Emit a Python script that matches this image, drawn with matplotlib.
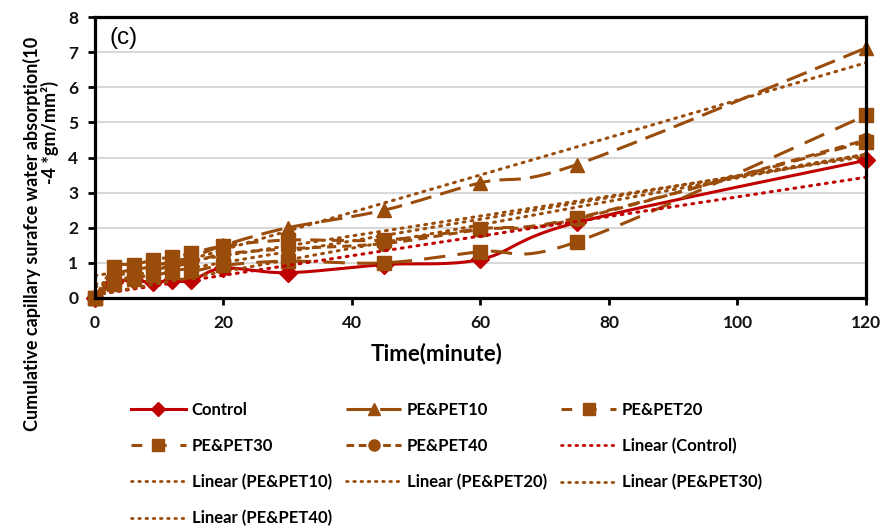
import numpy as np
import matplotlib
matplotlib.use("Agg")
import matplotlib.pyplot as plt
from matplotlib.lines import Line2D

# ---- data ----
time_min = [0, 3, 6, 9, 12, 15, 20, 30, 45, 60, 75, 120]
control = [0, 0.45, 0.5, 0.45, 0.5, 0.5, 0.85, 0.72, 0.95, 1.1, 2.15, 3.92]
pe_pet10 = [0, 0.65, 0.8, 0.9, 1.05, 1.15, 1.5, 2.0, 2.5, 3.28, 3.8, 7.12]
pe_pet20 = [0, 0.87, 0.95, 1.08, 1.17, 1.27, 1.48, 1.65, 1.65, 1.97, 2.28, 4.45]
pe_pet30 = [0, 0.4, 0.55, 0.65, 0.73, 0.75, 0.93, 1.05, 1.0, 1.32, 1.6, 5.2]
pe_pet40 = [0, 0.6, 0.7, 0.8, 0.9, 1.0, 1.25, 1.4, 1.55, 1.95, 2.25, 4.5]
series_names = ["Control", "PE&PET10", "PE&PET20", "PE&PET30", "PE&PET40"]
x_ticks = [0, 20, 40, 60, 80, 100, 120]
y_ticks = [0, 1, 2, 3, 4, 5, 6, 7, 8]

RED = "#C00000"
BROWN = "#9A4C0B"
FONT = "Lato"

plt.rcParams['font.family'] = [FONT, 'DejaVu Sans']


def smooth(xs, ys, n=20):
    """Excel-like smoothed line (cubic Bezier through points)."""
    xs = np.asarray(xs, float)
    ys = np.asarray(ys, float)
    P = np.column_stack([xs, ys])
    out = [P[0]]
    m = len(P)
    for i in range(m - 1):
        p0 = P[i - 1] if i > 0 else P[i]
        p1 = P[i]
        p2 = P[i + 1]
        p3 = P[i + 2] if i + 2 < m else P[i + 1]
        c1 = p1 + (p2 - p0) / 6.0
        c2 = p2 - (p3 - p1) / 6.0
        t = np.linspace(0, 1, n)[1:, None]
        seg = ((1 - t) ** 3) * p1 + 3 * ((1 - t) ** 2) * t * c1 + 3 * (1 - t) * t ** 2 * c2 + t ** 3 * p2
        out.extend(seg)
    out = np.array(out)
    return out[:, 0], out[:, 1]


fig = plt.figure(figsize=(8.87, 5.31), dpi=100)
ax = fig.add_axes([95 / 887, 1 - 298 / 531, (866 - 95) / 887, (298 - 17) / 531])

styles = [
    dict(color=RED, marker="D", ms=9, dashes=None, ldashes=None),
    dict(color=BROWN, marker="^", ms=10, dashes=(7, 3), ldashes=(9, 2)),
    dict(color=BROWN, marker="s", ms=10.5, dashes=(4, 3), ldashes=(3.5, 4.5)),
    dict(color=BROWN, marker="s", ms=10.5, dashes=(7, 4), ldashes=(3.5, 4.5)),
    dict(color=BROWN, marker="o", ms=10, dashes=(3, 2), ldashes=(2.5, 1.5)),
]
data = [control, pe_pet10, pe_pet20, pe_pet30, pe_pet40]

handles = {}
for name, ys, st in zip(series_names, data, styles):
    sx, sy = smooth(time_min, ys)
    kw = dict(color=st["color"], lw=2.2, solid_capstyle="butt", dash_capstyle="butt")
    if st["dashes"] is not None:
        ax.plot(sx, sy, ls="--", dashes=st["dashes"], zorder=3, **kw)
    else:
        ax.plot(sx, sy, ls="-", zorder=3, **kw)
    ax.plot(time_min, ys, ls="none", marker=st["marker"], ms=st["ms"],
            color=st["color"], mec=st["color"], zorder=4, clip_on=False)
    if st["ldashes"] is not None:
        h = Line2D([], [], color=st["color"], lw=2.2, marker=st["marker"],
                   ms=st["ms"] * 0.8, mec=st["color"], ls="--", dashes=st["ldashes"])
    else:
        h = Line2D([], [], color=st["color"], lw=2.2, marker=st["marker"],
                   ms=st["ms"] * 0.8, mec=st["color"], ls="-")
    handles[name] = h

# linear trendlines
xfit = np.array([0, 120], float)
for name, ys, st in zip(series_names, data, styles):
    k, b = np.polyfit(time_min, ys, 1)
    ax.plot(xfit, k * xfit + b, color=st["color"], lw=2.2, ls=(0, (0.6, 2.0)),
            dash_capstyle="round", zorder=5)
    handles["Linear (" + name + ")"] = Line2D([], [], color=st["color"], lw=2.0,
                                             ls=(0, (0.6, 2.0)), dash_capstyle="round")

ax.set_xlim(0, 120)
ax.set_ylim(0, 8)
ax.set_xticks(x_ticks)
ax.set_yticks(y_ticks)
ax.grid(axis="y", color="#D9D9D9", lw=1.5, zorder=0)
ax.set_axisbelow(True)
for sp in ax.spines.values():
    sp.set_linewidth(2.3)
    sp.set_color("black")
    sp.set_zorder(6)
ax.tick_params(axis="both", direction="out", length=5, width=2, color="black",
               labelsize=12.5, pad=7)
for lab in ax.get_xticklabels() + ax.get_yticklabels():
    lab.set_fontweight("bold")
    lab.set_color("#111111")

ax.text(0.019, 0.965, "(c)", transform=ax.transAxes, fontsize=17.5,
        family="Liberation Sans", ha="left", va="top")

ax.set_xlabel("Time(minute)", fontsize=16, fontweight="bold")
ax.xaxis.set_label_coords((437 - 95) / (866 - 95), -(354 - 298) / (298 - 17))
ax.xaxis.label.set_va("center")

fig.text(32 / 887, 1 - 234 / 531, "Cumulative capillary surafce water absorption(10",
         rotation=90, ha="center", va="center", fontsize=13, fontweight="bold")
fig.text(50 / 887, 1 - 133 / 531, "-4 *gm/mm²)",
         rotation=90, ha="center", va="center", fontsize=13, fontweight="bold")

order = ["Control", "PE&PET30", "Linear (PE&PET10)", "Linear (PE&PET40)",
         "PE&PET10", "PE&PET40", "Linear (PE&PET20)",
         "PE&PET20", "Linear (Control)", "Linear (PE&PET30)"]
leg = fig.legend([handles[o] for o in order], order, loc="upper left",
                 bbox_to_anchor=(131 / 887, 1 - 402 / 531), ncol=3, frameon=False,
                 handlelength=3.3, handletextpad=0.35, columnspacing=0.85,
                 labelspacing=1.2, borderpad=0, borderaxespad=0,
                 prop=dict(family=FONT, weight="bold", size=12))

fig.savefig("out.png", dpi=100)
